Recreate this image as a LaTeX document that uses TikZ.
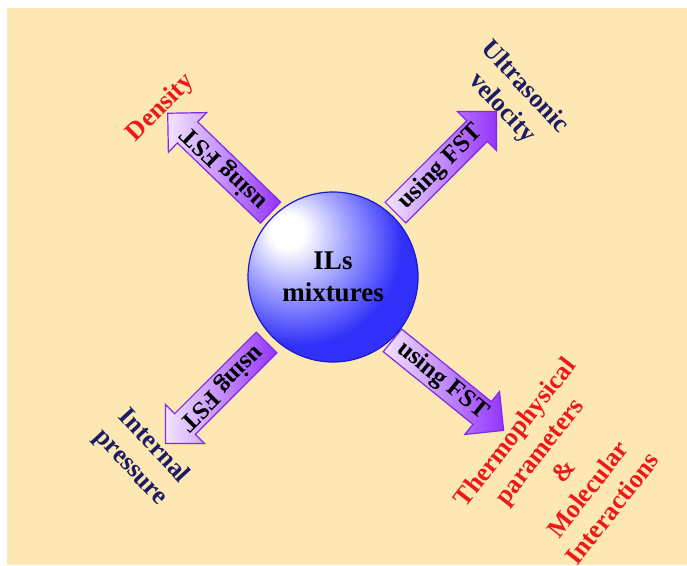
\documentclass[tikz,border=0pt]{standalone}
\usepackage{fontspec}
\setmainfont{Liberation Serif}
\usetikzlibrary{shapes.arrows, shadings}

\definecolor{paper}{RGB}{253,231,178}
\definecolor{navytext}{RGB}{28,28,100}
\definecolor{redtext}{RGB}{235,25,25}
\definecolor{arrowlight}{RGB}{242,228,255}
\definecolor{arrowdark}{RGB}{148,52,250}
\definecolor{arrowedge}{RGB}{128,40,235}
\definecolor{ballpale}{RGB}{170,170,255}
\definecolor{ballblue}{RGB}{48,48,250}
\definecolor{ballrim}{RGB}{25,25,205}

\pgfdeclareradialshading{ilsball}{\pgfpoint{-14bp}{14bp}}{%
  color(0bp)=(white); color(5bp)=(white); color(15bp)=(ballpale);
  color(30bp)=(ballblue); color(56bp)=(ballblue); color(64bp)=(ballrim); color(100bp)=(ballrim)}

\begin{document}
\begin{tikzpicture}[x=1pt, y=1pt,
      sphere/.style={circle, minimum size=170pt, shading=ilsball, draw=ballrim, line width=1.2pt,
        align=center, font=\fontsize{27}{32}\selectfont\bfseries},
      fstarrow/.style={single arrow, single arrow head extend=13pt, minimum height=143pt,
        text height=17pt, text depth=5pt, inner ysep=3pt, anchor=tail,
        draw=arrowedge, line width=1.2pt, left color=arrowlight, right color=arrowdark,
        font=\fontsize{25}{28}\selectfont\bfseries},
      lbl/.style={align=center, font=\fontsize{26}{31}\selectfont\bfseries}
    ]
    \useasboundingbox (0,0) rectangle (687,-565);
    \fill[white] (0,0) rectangle (687,-565);
    \fill[paper] (7,-8) rectangle (687,-565);

    % arrows sit behind the ball
    \node[fstarrow, rotate=136] (fstTL) at (271,-213) {using FST};
    \node[fstarrow, rotate=45] (fstTR) at (395,-213) {using FST};
    \node[fstarrow, rotate=225] (fstBL) at (267,-342) {using FST};
    \node[fstarrow, rotate=-39] (fstBR) at (392,-340) {using FST};

    \node[sphere] (ils) at (333,-277) {ILs\\mixtures};

    % properties
    \node[lbl, text=redtext, rotate=45] (density) at (161,-108) {Density};
    \node[lbl, text=navytext, rotate=-47] (usv) at (513,-98) {Ultrasonic\\velocity};
    \node[lbl, text=navytext, rotate=-47] (intp) at (142,-457) {Internal\\pressure};
    \node[lbl, text=redtext, rotate=52] (thermo) at (563,-470)
      {Thermophysical\\parameters\\\&\\Molecular\\Interactions};
  \end{tikzpicture}
\end{document}
